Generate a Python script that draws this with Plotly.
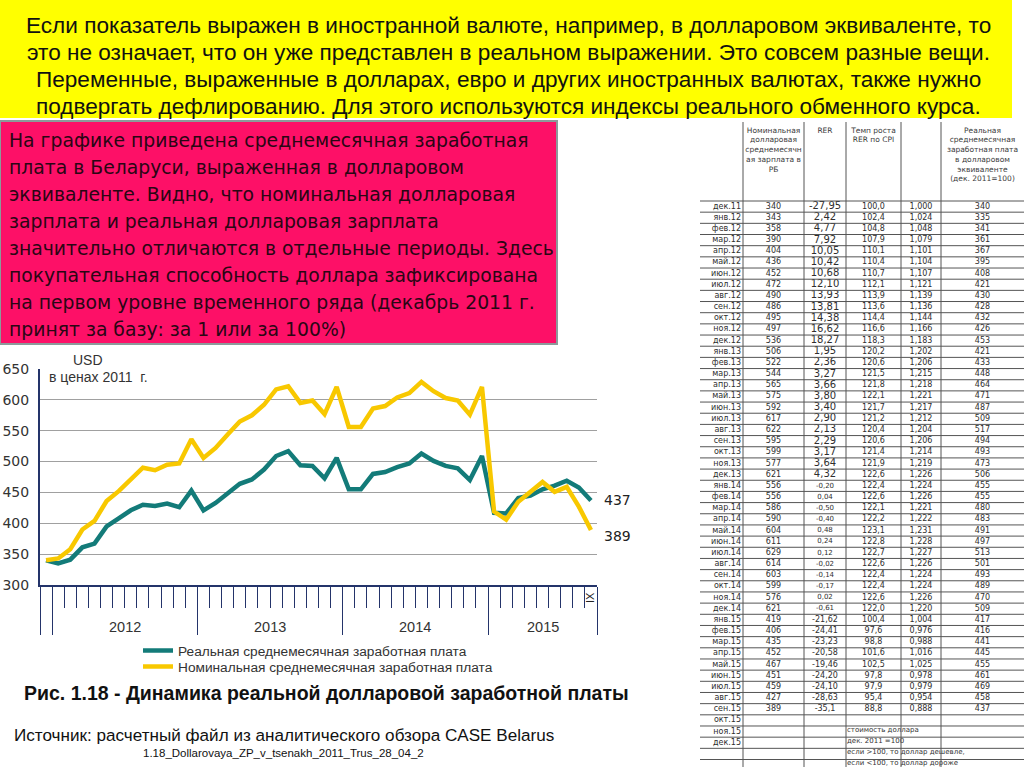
import plotly.graph_objects as go

# ---------------- data ----------------
months = ["дек.11", "янв.12", "фев.12", "мар.12", "апр.12", "май.12", "июн.12", "июл.12",
          "авг.12", "сен.12", "окт.12", "ноя.12", "дек.12", "янв.13", "фев.13", "мар.13",
          "апр.13", "май.13", "июн.13", "июл.13", "авг.13", "сен.13", "окт.13", "ноя.13",
          "дек.13", "янв.14", "фев.14", "мар.14", "апр.14", "май.14", "июн.14", "июл.14",
          "авг.14", "сен.14", "окт.14", "ноя.14", "дек.14", "янв.15", "фев.15", "мар.15",
          "апр.15", "май.15", "июн.15", "июл.15", "авг.15", "сен.15"]
extra_months = ["окт.15", "ноя.15", "дек.15", "", ""]

nominal = [340, 343, 358, 390, 404, 436, 452, 472, 490, 486, 495, 497, 536, 506, 522, 544,
           565, 575, 592, 617, 622, 595, 599, 577, 621, 556, 556, 586, 590, 604, 611, 629,
           614, 603, 599, 576, 621, 419, 406, 435, 452, 467, 451, 459, 427, 389]
rer = ["-27,95", "2,42", "4,77", "7,92", "10,05", "10,42", "10,68", "12,10", "13,93", "13,81",
       "14,38", "16,62", "18,27", "1,95", "2,36", "3,27", "3,66", "3,80", "3,40", "2,90",
       "2,13", "2,29", "3,17", "3,64", "4,32", "-0,20", "0,04", "-0,50", "-0,40", "0,48",
       "0,24", "0,12", "-0,02", "-0,14", "-0,17", "0,02", "-0,61", "-21,62", "-24,41",
       "-23,23", "-20,58", "-19,46", "-24,20", "-24,10", "-28,63", "-35,1"]
rer_growth = ["100,0", "102,4", "104,8", "107,9", "110,1", "110,4", "110,7", "112,1", "113,9",
              "113,6", "114,4", "116,6", "118,3", "120,2", "120,6", "121,5", "121,8", "122,1",
              "121,7", "121,2", "120,4", "120,6", "121,4", "121,9", "122,6", "122,4", "122,6",
              "122,1", "122,2", "123,1", "122,8", "122,7", "122,6", "122,4", "122,4", "122,6",
              "122,0", "100,4", "97,6", "98,8", "101,6", "102,5", "97,8", "97,9", "95,4", "88,8"]
rer_index = ["1,000", "1,024", "1,048", "1,079", "1,101", "1,104", "1,107", "1,121", "1,139",
             "1,136", "1,144", "1,166", "1,183", "1,202", "1,206", "1,215", "1,218", "1,221",
             "1,217", "1,212", "1,204", "1,206", "1,214", "1,219", "1,226", "1,224", "1,226",
             "1,221", "1,222", "1,231", "1,228", "1,227", "1,226", "1,224", "1,224", "1,226",
             "1,220", "1,004", "0,976", "0,988", "1,016", "1,025", "0,978", "0,979", "0,954",
             "0,888"]
real = [340, 335, 341, 361, 367, 395, 408, 421, 430, 428, 432, 426, 453, 421, 433, 448,
        464, 471, 487, 509, 517, 494, 493, 473, 506, 455, 455, 480, 483, 491, 497, 513,
        501, 493, 489, 470, 509, 417, 416, 441, 445, 455, 461, 469, 458, 437]
y_ticks = [300, 350, 400, 450, 500, 550, 600, 650]

series_names = ["Реальная среднемесячная заработная плата",
                "Номинальная среднемесячная заработная плата"]
table_header = ["", "Номинальная<br>долларовая<br>среднемесячн<br>ая зарплата в<br>РБ", "RER",
                "Темп роста<br>RER по CPI", "",
                "Реальная<br>среднемесячная<br>заработная плата<br>в долларовом<br>эквиваленте<br>(дек. 2011=100)"]
table_notes = ["стоимость доллара", "дек. 2011 =100", "если >100, то доллар дешевле,",
               "если <100, то доллар дороже"]

top_lines = ["Если показатель выражен в иностранной валюте, например, в долларовом эквиваленте, то",
             "это не означает, что он уже представлен в реальном выражении. Это совсем разные вещи.",
             "Переменные, выраженные в долларах, евро и других иностранных валютах, также нужно",
             "подвергать дефлированию. Для этого используются индексы реального обменного курса."]
pink_lines = ["На графике приведена среднемесячная заработная",
              "плата в Беларуси, выраженная в долларовом",
              "эквиваленте. Видно, что номинальная долларовая",
              "зарплата и реальная долларовая зарплата",
              "значительно отличаются в отдельные периоды. Здесь",
              "покупательная способность доллара зафиксирована",
              "на первом уровне временного ряда (декабрь 2011 г.",
              "принят за базу: за 1 или за 100%)"]

# ---------------- helpers ----------------
W, H = 1024, 767
def px(x):
    return x / W
def py(y):
    return 1 - y / H

TEAL = "#137B79"
YELLOW = "#F8C800"
NAVY = "#24346A"
n = len(months)
xs = list(range(n))

fig = go.Figure()
fig.add_trace(go.Scatter(x=xs, y=real, mode="lines", name=series_names[0], legend="legend",
                         line=dict(color=TEAL, width=4.5), text=months,
                         hovertemplate="%{text}: %{y}<extra></extra>"))
fig.add_trace(go.Scatter(x=xs, y=nominal, mode="lines", name=series_names[1], legend="legend2",
                         line=dict(color=YELLOW, width=4.5), text=months,
                         hovertemplate="%{text}: %{y}<extra></extra>"))

# ---------------- table (text drawn on its own hidden axes, pixel units) ----------------
TBL_LEFT, TBL_TOP = 700, 122
col_edges = [0, 43, 104, 146, 201, 241, 324]
HDR_H = 79
ROW_H = 11.17
pad = [""] * len(extra_months)
row_labels = months + extra_months
cols = [row_labels,
        [str(v) for v in nominal] + pad,
        rer + pad,
        rer_growth + pad,
        rer_index + pad,
        [str(v) for v in real] + pad]
n_rows = len(row_labels)
row_centers = [HDR_H + (i + 0.5) * ROW_H for i in range(n_rows)]
centers = [(col_edges[i] + col_edges[i + 1]) / 2 for i in range(6)]

fig.add_trace(go.Scatter(x=centers, y=[5] * 6, text=table_header, mode="text",
                         textposition="bottom center", xaxis="x2", yaxis="y2",
                         showlegend=False, hoverinfo="skip",
                         textfont=dict(family="DejaVu Sans", size=7.5, color="#3a3a3a")))
rer_sizes = [10 if i < 25 else (7 if i < 37 else 8) for i in range(len(rer))] + [8] * len(pad)
for ci, vals in enumerate(cols):
    if ci == 0:
        xv, pos = col_edges[1] - 2, "middle left"
    else:
        xv, pos = centers[ci], "middle center"
    size = rer_sizes if ci == 2 else 8
    fig.add_trace(go.Scatter(x=[xv] * n_rows, y=row_centers, text=vals, mode="text",
                             textposition=pos, xaxis="x2", yaxis="y2", showlegend=False,
                             hoverinfo="skip", cliponaxis=True,
                             textfont=dict(family="DejaVu Sans", size=size, color="#2e2e2e")))
note_rows = [n + 1 + i for i in range(len(table_notes))]
fig.add_trace(go.Scatter(x=[col_edges[3] + 1] * len(table_notes),
                         y=[row_centers[r] - 1.5 for r in note_rows], text=table_notes,
                         mode="text", textposition="middle right", xaxis="x2", yaxis="y2",
                         showlegend=False, hoverinfo="skip", cliponaxis=False,
                         textfont=dict(family="DejaVu Sans", size=7, color="#333")))

shapes = [
    dict(type="rect", xref="paper", yref="paper", x0=0, x1=px(1012), y0=py(118), y1=py(0),
         fillcolor="#FFFF00", line=dict(width=0), layer="below"),
    dict(type="rect", xref="paper", yref="paper", x0=0, x1=px(557), y0=py(344), y1=py(121),
         fillcolor="#FD1067", line=dict(color="#8c9a9a", width=2), layer="below"),
]
# table grid
for i in range(n_rows + 1):
    yl = HDR_H + i * ROW_H
    shapes.append(dict(type="line", xref="x2", yref="y2", x0=0, x1=col_edges[-1], y0=yl, y1=yl,
                       line=dict(color="#555", width=1)))
for xe in col_edges[1:-1]:
    shapes.append(dict(type="line", xref="x2", yref="y2", x0=xe, x1=xe, y0=0,
                       y1=H - TBL_TOP, line=dict(color="#555", width=1)))

# ---------------- text ----------------
ann = []
def pa(x, y, text, size, family="Liberation Sans", color="#111", xanchor="center", **kw):
    d = dict(x=px(x), y=py(y), xref="paper", yref="paper", text=text, showarrow=False,
             xanchor=xanchor, yanchor="middle", font=dict(family=family, size=size, color=color))
    d.update(kw)
    ann.append(d)

for i, t in enumerate(top_lines):
    pa(508, 25 + i * 27.2, t, 22.6)
for i, t in enumerate(pink_lines):
    pa(7, 140 + i * 27.1, t, 18.8, family="DejaVu Sans", color="#2a0614", xanchor="left")

pa(88, 360, "USD", 14, color="#333")
pa(47, 377, "в ценах 2011  г.", 14, color="#333", xanchor="left")

ann.append(dict(x=n - 1, y=real[-1], xref="x", yref="y", text=str(real[-1]), showarrow=False,
                xanchor="left", yanchor="middle", xshift=11,
                font=dict(family="DejaVu Sans", size=14, color="#222")))
ann.append(dict(x=n - 1, y=nominal[-1], xref="x", yref="y", text=str(nominal[-1]),
                showarrow=False, xanchor="left", yanchor="middle", xshift=11, yshift=-6,
                font=dict(family="DejaVu Sans", size=14, color="#222")))
ann.append(dict(x=n - 1, y=py(597), xref="x", yref="paper", text="IX", showarrow=False,
                textangle=-90, xanchor="center", yanchor="middle", xshift=-1,
                font=dict(family="Liberation Sans", size=11, color="#222")))

years = {}
for i, m in enumerate(months):
    if i == 0:
        continue
    years.setdefault("20" + m[-2:], []).append(i)
for yname, idx in years.items():
    ann.append(dict(x=sum(idx) / len(idx), y=py(627), xref="x", yref="paper", text=yname,
                    showarrow=False, xanchor="center", yanchor="middle",
                    font=dict(family="Liberation Sans", size=14.5, color="#333")))

pa(326.5, 693, "<b>Рис. 1.18 - Динамика реальной долларовой заработной платы</b>", 19.5)
pa(12, 735, "Источник: расчетный файл из аналитического обзора CASE Belarus", 17.1, xanchor="left")
pa(283, 753, "1.18_Dollarovaya_ZP_v_tsenakh_2011_Trus_28_04_2", 11.5)

major = [-0.5] + [i - 0.5 for i, m in enumerate(months) if m.startswith("янв")] + [n - 0.5]
minor = [i - 0.5 for i in range(n + 1)]

legend_style = dict(x=px(138), xanchor="left", yanchor="middle", bgcolor="rgba(0,0,0,0)",
                    font=dict(family="Liberation Sans", size=13.7, color="#333"))

fig.update_layout(
    width=W, height=H, margin=dict(l=0, r=0, t=0, b=0, pad=0, autoexpand=False),
    autosize=False,
    paper_bgcolor="white", plot_bgcolor="white",
    shapes=shapes, annotations=ann,
    showlegend=True,
    legend=dict(y=py(650.7), **legend_style),
    legend2=dict(y=py(666.7), **legend_style),
    xaxis=dict(domain=[px(40), px(597)], range=[-0.5, n - 0.5], showgrid=False,
               zeroline=False, showline=True, linecolor=NAVY, linewidth=1.5,
               tickmode="array", tickvals=major, ticks="outside", ticklen=48,
               tickcolor=NAVY, tickwidth=1.3, showticklabels=False, automargin=False,
               minor=dict(tickmode="array", tickvals=minor, ticks="outside", ticklen=21,
                          tickcolor=NAVY, tickwidth=1.3, showgrid=False)),
    yaxis=dict(domain=[py(585), py(369)], range=[300, 650], tickvals=y_ticks,
               showgrid=True, gridcolor="#a0a0a0", gridwidth=1.2, zeroline=False,
               showline=True, linecolor=NAVY, linewidth=2, ticks="", automargin=False,
               ticklabelstandoff=6,
               tickfont=dict(family="DejaVu Sans", size=14, color="#333")),
    xaxis2=dict(domain=[px(TBL_LEFT), 1], range=[0, col_edges[-1]], visible=False,
                anchor="y2", fixedrange=True, automargin=False),
    yaxis2=dict(domain=[0, py(TBL_TOP)], range=[H - TBL_TOP, 0], visible=False,
                anchor="x2", fixedrange=True, automargin=False),
)

fig.write_html("out.html", config={"displayModeBar": False, "responsive": False},
               post_script="document.body.style.margin='0';")
